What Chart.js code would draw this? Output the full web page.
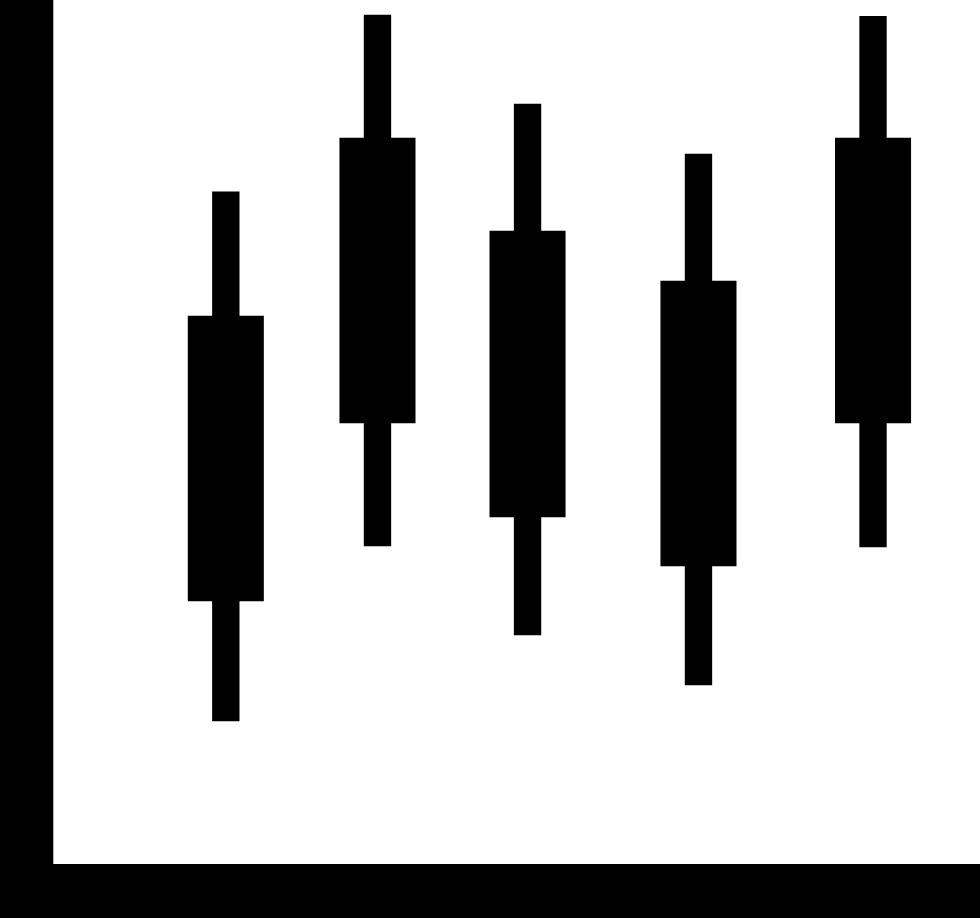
<!DOCTYPE html>
<html>
<head>
<meta charset="utf-8">
<script src="https://cdn.jsdelivr.net/npm/chart.js@4/dist/chart.umd.min.js"></script>
<style>
  html, body { margin: 0; padding: 0; background: #fff; }
  #wrap { width: 980px; height: 918px; position: relative; }
</style>
</head>
<body>
<div id="wrap"><canvas id="myChart"></canvas></div>
<script>
(function () {
// candle positions along the x axis
var positions = [20.89, 36.80, 52.54, 70.47, 88.78];
// open / close (body) and low / high (wick)
var opens  = [32.55, 52.53, 41.98, 36.48, 52.53];
var closes = [64.53, 84.51, 74.07, 68.46, 84.51];
var lows   = [19.08, 38.72, 28.73, 23.12, 38.61];
var highs  = [78.48, 98.32, 88.33, 82.72, 98.17];

var wicks = positions.map(function (x, i) { return { x: x, y: [lows[i], highs[i]] }; });
var bodies = positions.map(function (x, i) { return { x: x, y: [opens[i], closes[i]] }; });

var ctx = document.getElementById("myChart");
var myChart = new Chart(ctx, {
  type: 'bar',
  data: {
    datasets: [{
      label: 'High-Low',
      data: wicks,
      backgroundColor: '#000',
      borderWidth: 0,
      barThickness: 26.7,
      grouped: false
    }, {
      label: 'Open-Close',
      data: bodies,
      backgroundColor: '#000',
      borderWidth: 0,
      barThickness: 75.4,
      grouped: false
    }]
  },
  options: {
    responsive: true,
    maintainAspectRatio: false,
    animation: false,
    layout: { padding: { left: 26.65, bottom: 27, top: 0, right: 0 } },
    plugins: { legend: { display: false }, tooltip: { enabled: false } },
    scales: {
      x: {
        type: 'linear',
        min: 0, max: 100,
        offset: false,
        ticks: { display: false },
        grid: { display: false, drawTicks: false, lineWidth: 0 },
        border: { display: true, color: '#000', width: 54 }
      },
      y: {
        min: 0, max: 100,
        ticks: { display: false },
        grid: { display: false, drawTicks: false, lineWidth: 54 },
        border: { display: true, color: '#000', width: 53.3 }
      }
    }
  }
});
})();
</script>
</body>
</html>
